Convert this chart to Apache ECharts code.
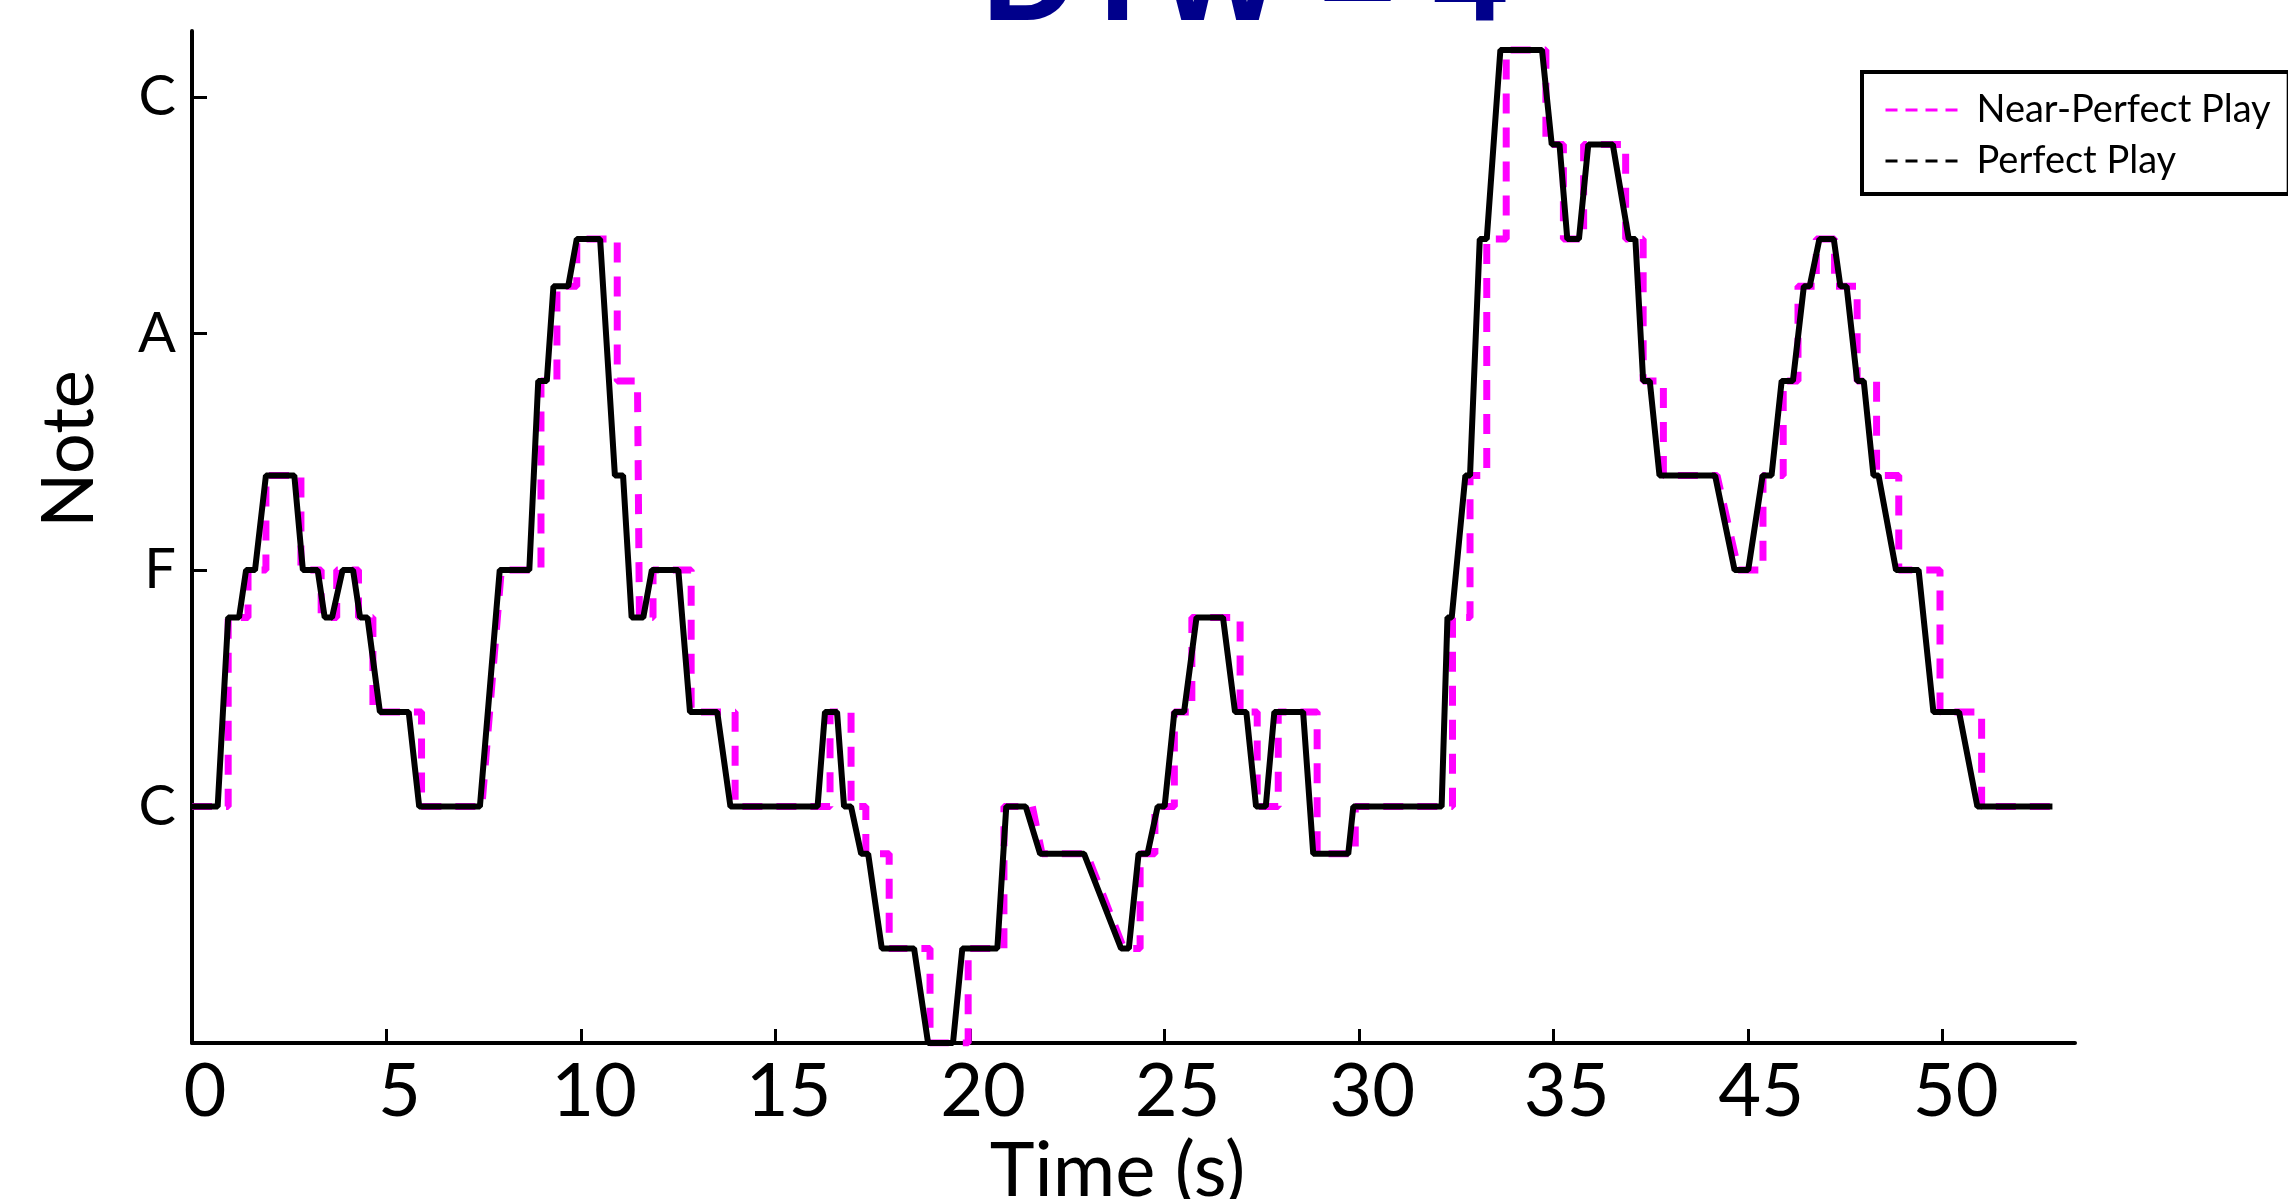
<!DOCTYPE html>
<html>
<head>
<meta charset="utf-8">
<title>DTW = 4</title>
<script src="https://cdn.jsdelivr.net/npm/echarts@6/dist/echarts.min.js"></script>
<style>
  html, body { margin: 0; padding: 0; background: #fff; }
  #chart { width: 2288px; height: 1199px; }
</style>
</head>
<body>
<div id="chart"></div>
<script>
// time axis: where the ticks sit and what is printed under them (the figure prints 45, 50 after 35)
const xTickValues = [0, 5, 10, 15, 20, 25, 30, 35, 40, 45];
const xTickLabels = ['0', '5', '10', '15', '20', '25', '30', '35', '45', '50'];
// note axis, in semitones above the low C
const yTickValues = [0, 5, 10, 15];
const yTickLabels = ['C', 'F', 'A', 'C'];

const seriesNames = ['Near-Perfect Play', 'Perfect Play'];

// [time (s), note]
const perfectPlay = [
  [0, 0], [0.66, 0], [0.93, 4], [1.21, 4], [1.39, 5], [1.62, 5], [1.9, 7], [2.63, 7],
  [2.85, 5], [3.23, 5], [3.41, 4], [3.6, 4], [3.87, 5], [4.14, 5], [4.32, 4], [4.51, 4],
  [4.83, 2], [5.57, 2], [5.84, 0], [7.4, 0], [7.91, 5], [8.67, 5], [8.9, 9], [9.12, 9],
  [9.29, 11], [9.67, 11], [9.89, 12], [10.49, 12], [10.87, 7], [11.08, 7], [11.3, 4], [11.6, 4],
  [11.82, 5], [12.5, 5], [12.8, 2], [13.5, 2], [13.84, 0], [16.08, 0], [16.27, 2], [16.58, 2],
  [16.76, 0], [16.94, 0], [17.2, -1], [17.38, -1], [17.73, -3], [18.56, -3], [18.92, -5], [19.56, -5],
  [19.8, -3], [20.7, -3], [20.93, 0], [21.43, 0], [21.8, -1], [22.93, -1], [23.88, -3], [24.08, -3],
  [24.33, -1], [24.56, -1], [24.82, 0], [25.0, 0], [25.25, 2], [25.5, 2], [25.82, 4], [26.5, 4],
  [26.81, 2], [27.1, 2], [27.35, 0], [27.6, 0], [27.82, 2], [28.56, 2], [28.82, -1], [29.72, -1],
  [29.85, 0], [32.12, 0], [32.27, 4], [32.38, 4], [32.73, 7], [32.85, 7], [33.1, 12], [33.28, 12],
  [33.63, 16], [34.7, 16], [34.95, 14], [35.15, 14], [35.35, 12], [35.65, 12], [35.89, 14], [36.52, 14],
  [36.93, 12], [37.1, 12], [37.3, 9], [37.47, 9], [37.72, 7], [39.15, 7], [39.65, 5], [40.0, 5],
  [40.37, 7], [40.6, 7], [40.86, 9], [41.15, 9], [41.43, 11], [41.58, 11], [41.83, 12], [42.2, 12],
  [42.37, 11], [42.53, 11], [42.8, 9], [42.97, 9], [43.22, 7], [43.35, 7], [43.8, 5], [44.38, 5],
  [44.76, 2], [45.42, 2], [45.89, 0], [47.82, 0]
];

const nearPerfectPlay = [
  [0, 0], [0.93, 0], [0.93, 4], [1.44, 4], [1.44, 5], [1.9, 5], [1.9, 7], [2.8, 7],
  [2.8, 5], [3.32, 5], [3.32, 4], [3.72, 4], [3.72, 5], [4.28, 5], [4.28, 4], [4.65, 4],
  [4.65, 2], [5.9, 2], [5.9, 0], [7.45, 0], [7.95, 5], [8.97, 5], [8.97, 9], [9.38, 9],
  [9.38, 11], [9.89, 11], [9.89, 12], [10.93, 12], [10.93, 9], [11.45, 9], [11.5, 4], [11.85, 4],
  [11.85, 5], [12.83, 5], [12.83, 2], [13.96, 2], [13.96, 0], [16.4, 0], [16.4, 2], [16.94, 2],
  [16.94, 0], [17.32, 0], [17.32, -1], [17.92, -1], [17.92, -3], [18.97, -3], [18.97, -5], [19.95, -5],
  [19.95, -3], [20.87, -3], [20.87, 0], [21.6, 0], [21.85, -1], [23.0, -1], [23.95, -3], [24.37, -3],
  [24.37, -1], [24.75, -1], [24.75, 0], [25.25, 0], [25.25, 2], [25.7, 2], [25.7, 4], [26.94, 4],
  [26.94, 2], [27.38, 2], [27.38, 0], [27.92, 0], [27.92, 2], [28.92, 2], [28.92, -1], [29.9, -1],
  [29.9, 0], [32.4, 0], [32.4, 4], [32.85, 4], [32.85, 7], [33.28, 7], [33.28, 12], [33.78, 12],
  [33.78, 16], [34.8, 16], [34.8, 14], [35.25, 14], [35.25, 12], [35.77, 12], [35.77, 14], [36.85, 14],
  [36.85, 12], [37.3, 12], [37.3, 9], [37.82, 9], [37.82, 7], [39.2, 7], [39.75, 5], [40.38, 5],
  [40.38, 7], [40.9, 7], [40.9, 9], [41.28, 9], [41.28, 11], [41.75, 11], [41.75, 12], [42.22, 12],
  [42.22, 11], [42.8, 11], [42.8, 9], [43.3, 9], [43.3, 7], [43.87, 7], [43.87, 5], [44.93, 5],
  [44.93, 2], [46.0, 2], [46.0, 0], [47.82, 0]
];

const font = 'Lato';
const chart = echarts.init(document.getElementById('chart'));

const option = {
  animation: false,
  backgroundColor: '#fff',
  title: {
    text: 'DTW = 4',
    left: 1239,
    top: -87,
    textAlign: 'center',
    textStyle: {
      fontFamily: 'Liberation Sans',
      fontSize: 132,
      fontWeight: 'bold',
      color: '#00008b'
    }
  },
  legend: {
    orient: 'vertical',
    left: 1862,
    top: 72,
    padding: [19, 18, 14, 22],
    itemGap: 13,
    itemWidth: 76,
    itemHeight: 14,
    borderColor: '#000',
    borderWidth: 4,
    borderRadius: 0,
    itemStyle: { opacity: 0 },
    textStyle: { fontFamily: font, fontSize: 38, color: '#000', padding: [0, 0, 0, 10] },
    data: [
      { name: seriesNames[0], lineStyle: { type: [12, 8], width: 3 } },
      { name: seriesNames[1], lineStyle: { type: [12, 8], width: 3 } }
    ]
  },
  grid: { left: 192, right: 213, top: 31, bottom: 156, outerBoundsMode: 'none' },
  xAxis: {
    type: 'value',
    min: 0,
    max: 48.4,
    name: 'Time (s)',
    nameLocation: 'middle',
    nameGap: 86,
    nameTextStyle: { fontFamily: font, fontSize: 76, color: '#000', padding: [0, 32, 0, 0] },
    axisLine: { onZero: false, lineStyle: { color: '#000', width: 4 } },
    axisTick: { inside: true, length: 14, customValues: xTickValues, lineStyle: { color: '#000', width: 3 } },
    axisLabel: {
      customValues: xTickValues,
      formatter: v => xTickLabels[xTickValues.indexOf(v)],
      fontFamily: font,
      fontSize: 74,
      color: '#000',
      margin: 12,
      padding: [0, 0, 0, 26]
    },
    splitLine: { show: false }
  },
  yAxis: {
    type: 'value',
    min: -5,
    max: 16.4,
    name: 'Note',
    nameLocation: 'middle',
    nameGap: 86,
    nameTextStyle: { fontFamily: font, fontSize: 72, color: '#000', padding: [0, 0, 0, 176] },
    axisLine: { onZero: false, lineStyle: { color: '#000', width: 4 } },
    axisTick: { inside: true, length: 15, customValues: yTickValues, lineStyle: { color: '#000', width: 3 } },
    axisLabel: {
      customValues: yTickValues,
      formatter: v => yTickLabels[yTickValues.indexOf(v)],
      fontFamily: font,
      fontSize: 56,
      color: '#000',
      margin: 16
    },
    splitLine: { show: false }
  },
  series: [
    {
      name: seriesNames[0],
      type: 'line',
      data: nearPerfectPlay,
      symbol: 'none',
      lineStyle: { color: '#ff00ff', width: 7, type: [20, 14] },
      itemStyle: { color: '#ff00ff' },
      z: 2
    },
    {
      name: seriesNames[1],
      type: 'line',
      data: perfectPlay,
      symbol: 'none',
      lineStyle: { color: '#000', width: 6 },
      itemStyle: { color: '#000' },
      z: 3
    }
  ]
};

chart.setOption(option);
</script>
</body>
</html>
